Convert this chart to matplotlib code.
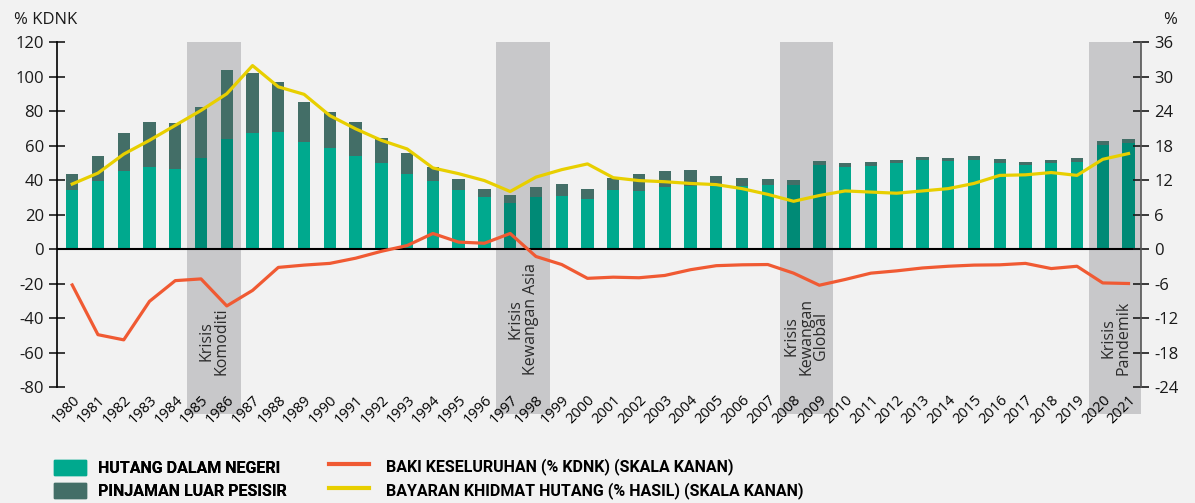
import numpy as np
import matplotlib
matplotlib.use("Agg")
import matplotlib.pyplot as plt
from matplotlib.patches import Patch
from matplotlib.lines import Line2D

plt.rcParams['font.family'] = ['Open Sans', 'DejaVu Sans']
plt.rcParams['axes.unicode_minus'] = False

# Data (% KDNK, bars on left scale; lines on right scale)
tahun = list(range(1980, 2022))
hutang_dalam = [34.4, 39.7, 45.5, 47.8, 46.1, 52.6, 63.5, 67.5, 68.1, 62.3,
                58.8, 54.2, 50.1, 43.7, 39.7, 34.4, 30.4, 26.9, 30.4, 31.0,
                29.2, 34.0, 33.4, 35.7, 36.3, 37.5, 36.3, 36.9, 36.9, 48.5,
                47.4, 48.0, 49.7, 51.5, 50.9, 51.5, 49.7, 48.5, 49.7, 50.3,
                60.2, 61.4]
pinjaman_luar = [9.3, 14.5, 21.5, 25.6, 26.7, 30.0, 40.0, 34.3, 28.5, 23.2,
                 20.9, 19.2, 14.0, 11.7, 8.1, 6.4, 4.6, 4.6, 5.8, 6.4,
                 5.8, 7.0, 9.9, 9.3, 9.3, 4.6, 4.7, 3.5, 2.9, 2.4,
                 2.3, 2.3, 1.8, 1.7, 1.7, 2.3, 2.3, 1.8, 1.8, 2.3,
                 2.3, 2.3]
baki = [-6.25, -14.9, -15.8, -9.1, -5.5, -5.2, -9.9, -7.2, -3.2, -2.8,
        -2.5, -1.6, -0.4, 0.6, 2.7, 1.2, 1.0, 2.7, -1.3, -2.7,
        -5.1, -4.9, -5.0, -4.6, -3.6, -2.9, -2.75, -2.7, -4.2, -6.3,
        -5.3, -4.2, -3.8, -3.3, -3.0, -2.8, -2.75, -2.5, -3.4, -3.0,
        -5.9, -6.0]
bayaran = [11.3, 13.2, 16.5, 18.9, 21.5, 24.1, 27.0, 31.9, 28.2, 26.9,
           23.2, 20.9, 18.9, 17.4, 14.1, 13.1, 11.9, 10.0, 12.5, 13.8,
           14.8, 12.4, 11.9, 11.7, 11.4, 11.2, 10.5, 9.5, 8.3, 9.3,
           10.1, 9.9, 9.7, 10.1, 10.5, 11.4, 12.8, 12.9, 13.3, 12.8,
           15.6, 16.6]

krisis = [(1985, 1986, "Krisis\nKomoditi"),
          (1997, 1998, "Krisis\nKewangan Asia"),
          (2008, 2009, "Krisis\nKewangan\nGlobal"),
          (2020, 2021, "Krisis\nPandemik")]
tahun_krisis = [t for a, b, _ in krisis for t in range(a, b + 1)]

bg = '#f2f2f2'
fig = plt.figure(figsize=(11.95, 5.03), dpi=100, facecolor=bg)
ax = fig.add_axes([0.0477, 0.2306, 0.907, 0.6859])
ax.set_facecolor('none')

# crisis bands, reaching below the axis over the year labels
for a, b, nama in krisis:
    ax.axvspan(a - 0.54, min(b + 0.54, 2021.48), ymin=-0.078, ymax=1,
               color='#c8c8ca', lw=0, zorder=0, clip_on=False)
    ax.text((a + b) / 2, -73, nama, rotation=90, ha='center', va='bottom',
            multialignment='center', fontsize=11.5, color='#2b2b2b',
            linespacing=0.92, zorder=1)

warna_dalam = ['#008a76' if t in tahun_krisis else '#00a98e' for t in tahun]
ax.bar(tahun, hutang_dalam, width=0.48, color=warna_dalam, zorder=2)
ax.bar(tahun, pinjaman_luar, width=0.48, bottom=hutang_dalam,
       color='#436e67', zorder=2)
ax.axhline(0, color='black', lw=1.5, zorder=3)

ax.set_xlim(1979.41, 2021.48)
ax.set_ylim(-80, 120)
ax.set_yticks(range(-80, 121, 20))
ax.set_xticks(tahun)
ax.set_xticklabels([str(t) for t in tahun], rotation=45, ha='right',
                   va='top', rotation_mode='anchor', fontsize=10.5)
ax.tick_params(axis='x', length=0, pad=4)
ax.tick_params(axis='y', direction='inout', length=11, width=1.2,
               labelsize=12, pad=4, colors='#1a1a1a')
for s in ['top', 'bottom', 'right']:
    ax.spines[s].set_visible(False)
ax.spines['left'].set_linewidth(1.2)

# right scale
ax2 = ax.twinx()
ax2.plot(tahun, baki, color='#f05a33', lw=2.3, zorder=4)
ax2.plot(tahun, bayaran, color='#e8cf00', lw=2.3, zorder=4)
ax2.set_ylim(-24, 36)
ax2.set_yticks(range(-24, 37, 6))
ax2.tick_params(axis='y', direction='inout', length=11, width=1.2,
                labelsize=12, pad=4, colors='#1a1a1a')
for s in ['top', 'bottom', 'left']:
    ax2.spines[s].set_visible(False)
ax2.spines['right'].set_color('#555555')
ax2.spines['right'].set_linewidth(1.2)

fig.text(14 / 1195, 1 - 20 / 503, '% KDNK', fontsize=12, va='center',
         color='#1a1a1a')
fig.text(1163 / 1195, 1 - 20 / 503, '%', fontsize=12, va='center',
         color='#1a1a1a')

# legends
leg_font = {'family': 'Roboto', 'weight': 'bold', 'size': 11.5}
h1 = [Patch(color='#00a98e'), Patch(color='#436e67')]
leg1 = fig.legend(h1, ['HUTANG DALAM NEGERI', 'PINJAMAN LUAR PESISIR'],
                  loc='lower left', bbox_to_anchor=(48 / 1195, -0.004),
                  frameon=False, prop=leg_font, handlelength=2.0,
                  handleheight=1.05, handletextpad=0.7, labelspacing=0.45,
                  borderaxespad=0.0)
h2 = [Line2D([], [], color='#f05a33', lw=3),
      Line2D([], [], color='#e8cf00', lw=3)]
fig.legend(h2, ['BAKI KESELURUHAN (% KDNK) (SKALA KANAN)',
                'BAYARAN KHIDMAT HUTANG (% HASIL) (SKALA KANAN)'],
           loc='lower left', bbox_to_anchor=(323 / 1195, -0.004),
           frameon=False, prop=leg_font, handlelength=2.5,
           handleheight=1.05, handletextpad=1.05, labelspacing=0.45,
           borderaxespad=0.0)
fig.add_artist(leg1)

fig.savefig('out.png', dpi=100, facecolor=bg)
